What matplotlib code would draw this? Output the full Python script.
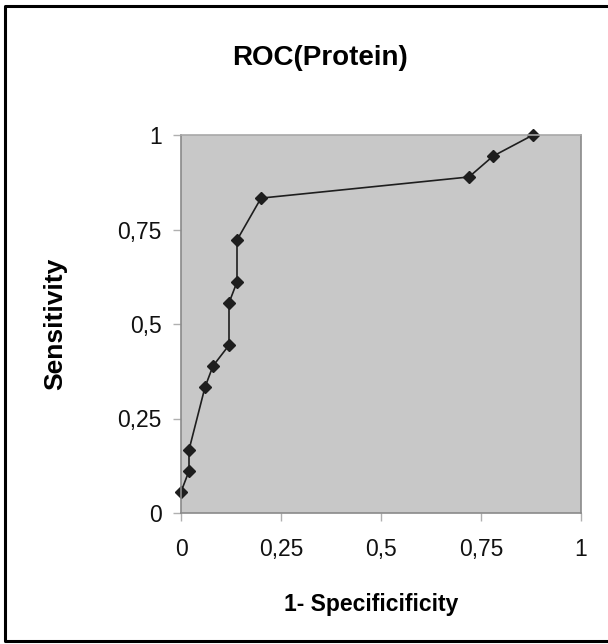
import matplotlib
matplotlib.use("Agg")
import matplotlib.pyplot as plt
from matplotlib.lines import Line2D

# ROC points
fpr = [0.0, 0.02, 0.02, 0.06, 0.08, 0.12, 0.12, 0.14, 0.14, 0.20, 0.72, 0.78, 0.88]
tpr = [0.056, 0.111, 0.167, 0.333, 0.389, 0.444, 0.556, 0.611, 0.722, 0.833, 0.889, 0.944, 1.0]
ticks = [0, 0.25, 0.5, 0.75, 1]
tick_labels = ["0", "0,25", "0,5", "0,75", "1"]

plt.rcParams["font.family"] = ["Liberation Sans", "DejaVu Sans"]

fig = plt.figure(figsize=(6.08, 6.44), dpi=100)
ax = fig.add_axes([181/608, 1-513/644, 400/608, 378/644])
ax.set_facecolor("#c8c8c8")

ax.plot(fpr, tpr, color="#1e1e1e", lw=1.2, marker="D", markersize=6.5, clip_on=False)

ax.set_xlim(0, 1)
ax.set_ylim(0, 1)
ax.set_xticks(ticks)
ax.set_xticklabels(tick_labels)
ax.set_yticks(ticks)
ax.set_yticklabels(tick_labels)
ax.tick_params(axis="both", direction="out", length=6, width=1, color="#b0b0b0",
               labelsize=16.5, labelcolor="#111111")
ax.tick_params(axis="x", pad=12)
ax.tick_params(axis="y", pad=8)
for side in ax.spines:
    ax.spines[side].set_color("#8a8a8a")
    ax.spines[side].set_linewidth(1.2)
ax.spines["top"].set_color("#a8a8a8")

ax.set_xlabel("1- Specificificity", fontsize=16.5, fontweight="bold")
ax.xaxis.set_label_coords(0.475, -0.212)
ax.set_ylabel("Sensitivity", fontsize=19, fontweight="bold")
ax.yaxis.set_label_coords(-0.285, 0.5)

fig.text(320/608, 1-58/644, "ROC(Protein)", fontsize=20, fontweight="bold",
         ha="center", va="center")

# outer chart frame (cropped on the right)
frame_x = [608/608, 5/608, 5/608, 608/608]
frame_y = [1-6/644, 1-6/644, 1-641/644, 1-641/644]
fig.add_artist(Line2D(frame_x, frame_y, color="black", lw=2.2, transform=fig.transFigure))

fig.savefig("out.png", dpi=100)
